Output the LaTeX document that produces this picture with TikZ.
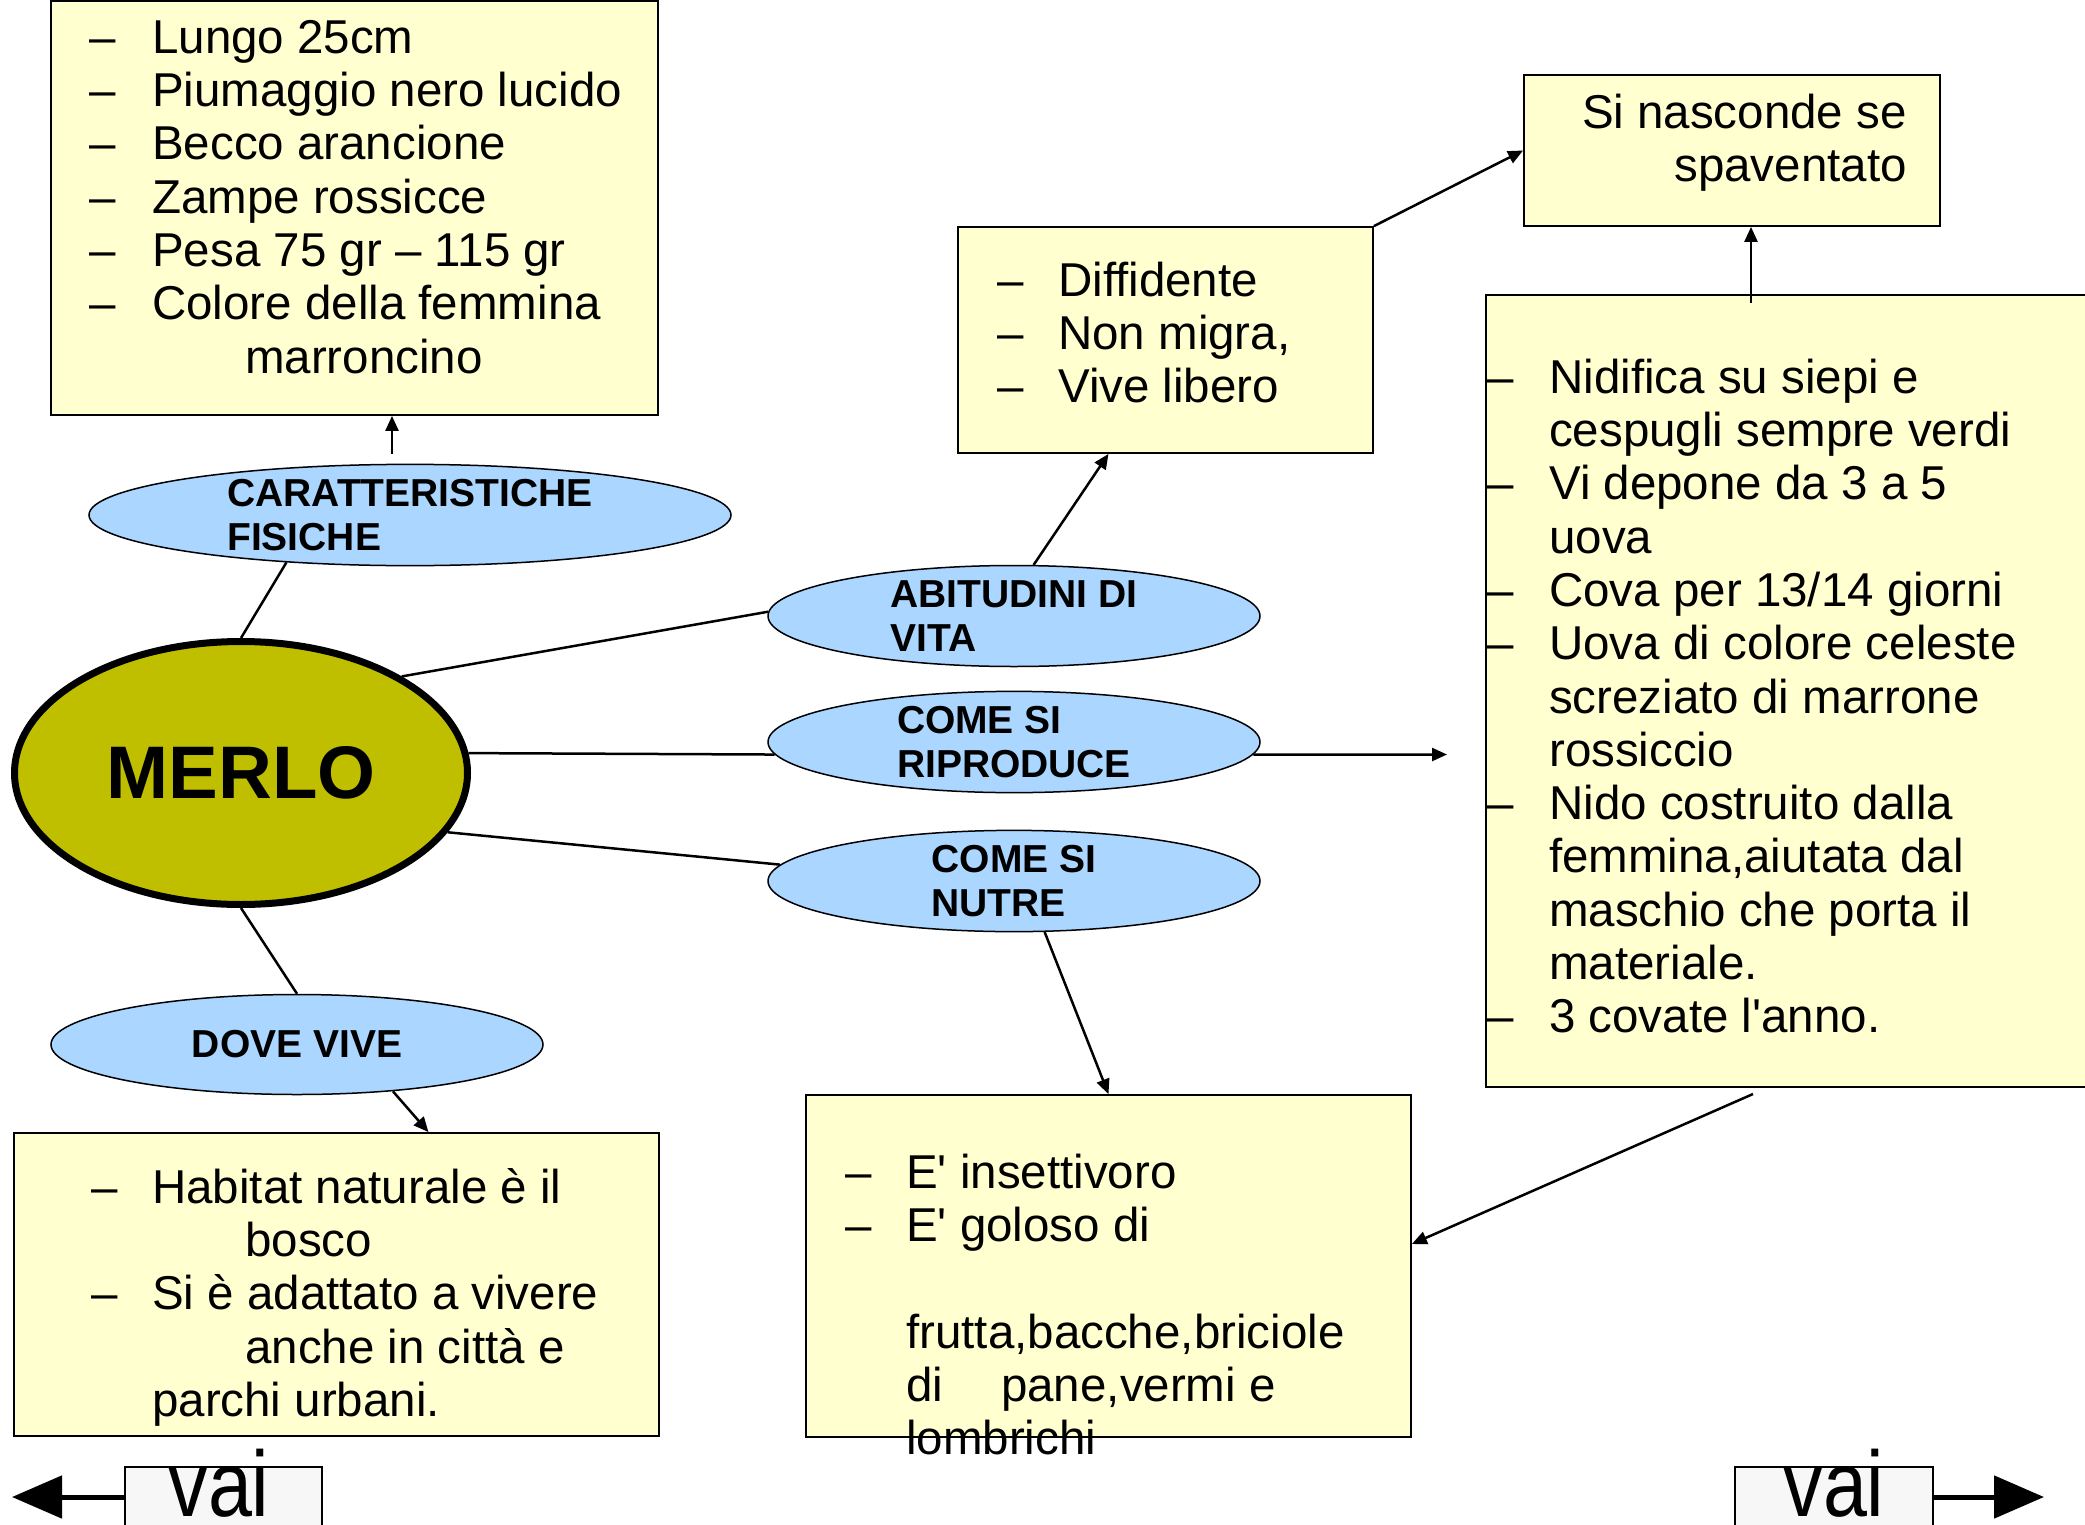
\documentclass[tikz,border=0pt]{standalone}
\usepackage{fontspec}
\setmainfont{Liberation Sans}[Ligatures=TeXOff]
\usetikzlibrary{arrows.meta,shapes.geometric,calc}
\definecolor{boxyellow}{RGB}{255,255,208}
\definecolor{ellblue}{RGB}{170,214,255}
\definecolor{merlofill}{RGB}{191,191,0}
\definecolor{vaigray}{RGB}{247,247,247}
\newcommand{\bul}[1]{\strut\makebox[#1][l]{–}}
\tikzset{
  infobox/.style={rectangle, draw=black, line width=1.8pt, fill=boxyellow, inner sep=0pt},
  bluell/.style={ellipse, draw=black, line width=1.5pt, fill=ellblue, inner sep=0pt, align=left,
    font=\bfseries\fontsize{39}{44}\selectfont},
  listtext/.style={inner sep=0pt, align=left, anchor=north west, font=\fontsize{47.5}{53.3}\selectfont},
  link/.style={line width=2.5pt},
  arr/.style={line width=2.5pt, -{Triangle[length=15pt,width=13pt]}},
  vaibox/.style={rectangle, draw=black, line width=2pt, fill=vaigray, inner sep=0pt},
  vaitext/.style={inner sep=0pt, anchor=base, font=\fontsize{93}{100}\selectfont},
  vaiarrow/.style={line width=5pt, -{Triangle[length=50pt,width=42pt]}},
}
\begin{document}
\begin{tikzpicture}[x=1pt,y=-1pt]
\useasboundingbox (0,0) rectangle (2085,1525);

% boxes
\node[infobox, minimum width=607pt, minimum height=414pt] (topbox) at (354.5,208) {};
\node[infobox, minimum width=645pt, minimum height=303pt] (blbox) at (336.5,1284.5) {};
\node[infobox, minimum width=415pt, minimum height=226pt] (diff) at (1165.5,340) {};
\node[infobox, minimum width=416pt, minimum height=151pt] (nasc) at (1732,150.5) {};
\node[infobox, minimum width=614pt, minimum height=792pt] (big) at (1793,691) {};
\node[infobox, minimum width=605pt, minimum height=342pt] (bm) at (1108.5,1266) {};

% box texts
\node[listtext] (toptext) at (89,15.7) {%
\bul{63pt}Lungo 25cm\\
\bul{63pt}Piumaggio nero lucido\\
\bul{63pt}Becco arancione\\
\bul{63pt}Zampe rossicce\\
\bul{63pt}Pesa 75 gr – 115 gr\\
\bul{63pt}Colore della femmina\\
\strut\hspace*{156pt}marroncino};

\node[listtext] (bltext) at (91,1165.7) {%
\bul{61pt}Habitat naturale è il\\
\strut\hspace*{154pt}bosco\\
\bul{61pt}Si è adattato a vivere\\
\strut\hspace*{154pt}anche in città e\\
\strut\hspace*{61pt}parchi urbani.};

\node[listtext] (difftext) at (997,258.7) {%
\bul{61pt}Diffidente\\
\bul{61pt}Non migra,\\
\bul{61pt}Vive libero};

\node[listtext, align=right, anchor=north east] (nasctext) at (1907,90.7) {%
\strut Si nasconde se\\
\strut spaventato};

\node[listtext] (bigtext) at (1487,355.7) {%
\bul{62pt}Nidifica su siepi e\\
\strut\hspace*{62pt}cespugli sempre verdi\\
\bul{62pt}Vi depone da 3 a 5\\
\strut\hspace*{62pt}uova\\
\bul{62pt}Cova per 13/14 giorni\\
\bul{62pt}Uova di colore celeste\\
\strut\hspace*{62pt}screziato di marrone\\
\strut\hspace*{62pt}rossiccio\\
\bul{62pt}Nido costruito dalla\\
\strut\hspace*{62pt}femmina,aiutata dal\\
\strut\hspace*{62pt}maschio che porta il\\
\strut\hspace*{62pt}materiale.\\
\bul{62pt}3 covate l'anno.};

\node[listtext] (bmtext) at (845,1150.7) {%
\bul{61pt}E' insettivoro\\
\bul{61pt}E' goloso di\\
\strut\\
\strut\hspace*{61pt}frutta,bacche,briciole\\
\strut\hspace*{61pt}\makebox[95pt][l]{di}pane,vermi e\\
\strut\hspace*{61pt}lombrichi};

% ellipses
\node[ellipse, draw=black, line width=7pt, fill=merlofill, inner sep=0pt,
      minimum width=453pt, minimum height=263pt,
      font=\bfseries\fontsize{74.5}{80}\selectfont] (merlo) at (241,773) {MERLO};
\node[bluell, minimum width=642pt, minimum height=100pt] (carat) at (410,515) {CARATTERISTICHE\\FISICHE};
\node[bluell, minimum width=492pt, minimum height=101pt] (abit) at (1014,616) {ABITUDINI DI\\VITA};
\node[bluell, minimum width=492pt, minimum height=100pt] (repr) at (1014,742) {COME SI\\RIPRODUCE};
\node[bluell, minimum width=492pt, minimum height=100pt] (nutre) at (1014,881) {COME SI\\NUTRE};
\node[bluell, minimum width=492pt, minimum height=100pt] (dove) at (297,1044.5) {DOVE VIVE};

% free ends
\coordinate (reprend) at (1447,754.5);
\coordinate (bigout) at (1753,1094);

% links
\draw[link] (merlo.north) -- (carat.201);
\draw[link] (merlo.31) -- (abit.179);
\draw[link] (merlo.5) -- (repr.183);
\draw[link] (merlo.-16) -- (nutre.176);
\draw[link] (merlo.south) -- (dove.north);

% arrows
\draw[arr] ($(carat.north)+(-18,-10)$) -- ($(carat.north |- topbox.south)+(-18,0)$);
\draw[arr] (dove.-26) -- ($(blbox.north)+(92,0)$);
\draw[arr] (abit.69) -- ($(diff.south)+(-57,0)$);
\draw[arr] (diff.north east) -- (nasc.west);
\draw[arr] ($(nasc.south |- big.north)+(19,9)$) -- ($(nasc.south)+(19,0)$);
\draw[arr] (repr.-3) -- (reprend);
\draw[arr] (nutre.-59) -- (bm.north);
\draw[arr] (bigout) -- ($(bm.east)+(0,-22)$);

% vai buttons
\node[vaibox, minimum width=197pt, minimum height=60pt] (vaiL) at (223.5,1497) {};
\node[vaibox, minimum width=198pt, minimum height=60pt] (vaiR) at (1834,1497) {};
\node[vaitext] (vaiLt) at (219,1516) {\scalebox{0.85}[1]{vai}};
\node[vaitext] (vaiRt) at (1834,1516) {\scalebox{0.85}[1]{vai}};
\coordinate (vaiLtip) at (12,1497);
\coordinate (vaiRtip) at (2044,1497);
\draw[vaiarrow] (vaiL.west) -- (vaiLtip);
\draw[vaiarrow] (vaiR.east) -- (vaiRtip);
\end{tikzpicture}
\end{document}
